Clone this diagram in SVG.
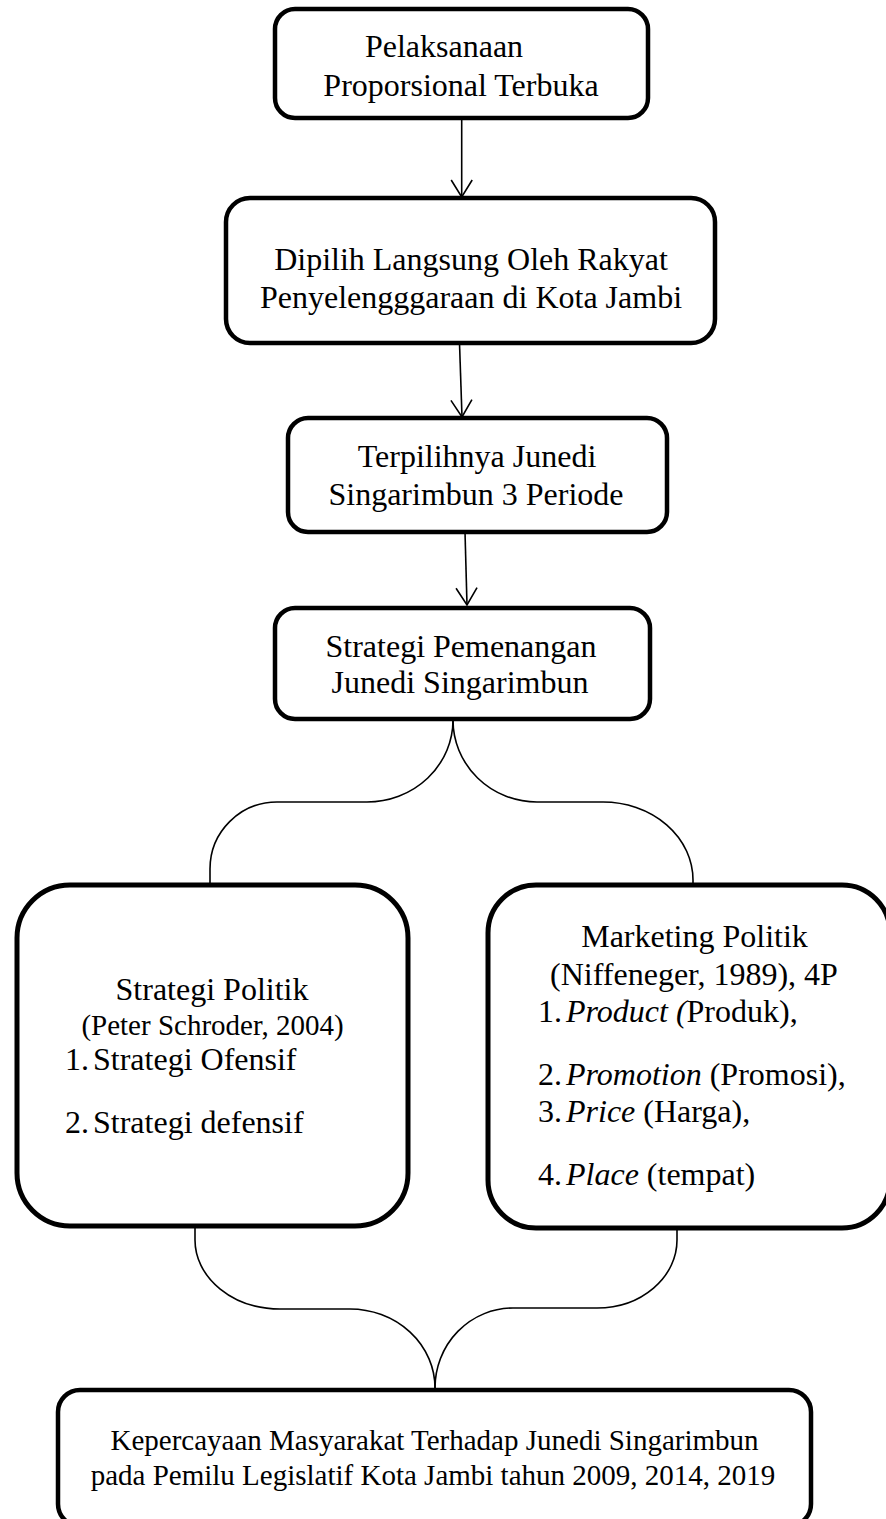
<svg xmlns="http://www.w3.org/2000/svg" width="886" height="1519" viewBox="0 0 886 1519">
<defs>
<style>
.box{fill:#fff;stroke:#000;stroke-width:4.5}
.bigbox{fill:#fff;stroke:#000;stroke-width:5}
.t{font-family:"Liberation Serif","Times New Roman",serif;font-size:32px;fill:#000}
.s{font-size:29px}
.c{text-anchor:middle}
.i{font-style:italic}
.ln{fill:none;stroke:#000;stroke-width:1.6}
</style>
<marker id="ah" markerWidth="20" markerHeight="23" refX="18" refY="11.5" orient="auto" markerUnits="userSpaceOnUse" viewBox="0 0 20 23">
<path d="M1,1 L18,11.5 L1,22" fill="none" stroke="#000" stroke-width="1.6"/>
</marker>
</defs>
<rect width="886" height="1519" fill="#fff"/>
<g id="connectors">
<path class="ln" d="M461.7,118 L461.7,197" marker-end="url(#ah)"/>
<path class="ln" d="M459.5,343 L462,417" marker-end="url(#ah)"/>
<path class="ln" d="M465,532 L467,605" marker-end="url(#ah)"/>
<path class="ln" d="M453,720 A86,82 0 0 1 367,802 L277,802 A67,67 0 0 0 210,869 L210,885"/>
<path class="ln" d="M453,720 A84,82 0 0 0 537,802 L603,802 A90,78 0 0 1 693,880 L693,885"/>
<path class="ln" d="M195,1226 L195,1240 A85,69 0 0 0 280,1309 L350,1309 A85,79 0 0 1 435,1388 L435,1390"/>
<path class="ln" d="M677,1228 L677,1240 A80,68 0 0 1 597,1308 L513,1308 A78,80 0 0 0 435,1388"/>
</g>
<g id="n1">
<rect class="box" x="275" y="9" width="373" height="109" rx="20"/>
<text class="t c" x="444" y="57">Pelaksanaan</text>
<text class="t c" x="461" y="96">Proporsional Terbuka</text>
</g>
<g id="n2">
<rect class="box" x="226" y="198" width="489" height="145" rx="24"/>
<text class="t c" x="471" y="270">Dipilih Langsung Oleh Rakyat</text>
<text class="t c" x="471" y="308">Penyelengggaraan di Kota Jambi</text>
</g>
<g id="n3">
<rect class="box" x="288" y="418" width="379" height="114" rx="20"/>
<text class="t c" x="477" y="467">Terpilihnya Junedi</text>
<text class="t c" x="476" y="505">Singarimbun 3 Periode</text>
</g>
<g id="n4">
<rect class="box" x="275" y="608" width="375" height="111" rx="20"/>
<text class="t c" x="461" y="657">Strategi Pemenangan</text>
<text class="t c" x="460" y="693">Junedi Singarimbun</text>
</g>
<g id="n5">
<rect class="bigbox" x="17" y="885" width="391" height="341" rx="53"/>
<text class="t c" x="212" y="1000">Strategi Politik</text>
<text class="t s c" x="212.5" y="1035">(Peter Schroder, 2004)</text>
<text class="t" y="1070"><tspan x="65">1.</tspan><tspan x="93">Strategi Ofensif</tspan></text>
<text class="t" y="1133"><tspan x="65">2.</tspan><tspan x="93">Strategi defensif</tspan></text>
</g>
<g id="n6">
<rect class="bigbox" x="488" y="885" width="402" height="343" rx="48"/>
<text class="t c" x="694.5" y="947">Marketing Politik</text>
<text class="t c" x="694" y="985">(Niffeneger, 1989), 4P</text>
<text class="t" y="1022"><tspan x="538">1.</tspan><tspan x="566" class="i">Product (</tspan><tspan>Produk),</tspan></text>
<text class="t" y="1085"><tspan x="538">2.</tspan><tspan x="566" class="i">Promotion</tspan><tspan> (Promosi),</tspan></text>
<text class="t" y="1122"><tspan x="538">3.</tspan><tspan x="566" class="i">Price</tspan><tspan> (Harga),</tspan></text>
<text class="t" y="1185"><tspan x="538">4.</tspan><tspan x="566" class="i">Place</tspan><tspan> (tempat)</tspan></text>
</g>
<g id="n7">
<rect class="box" x="58" y="1390" width="753" height="136" rx="22"/>
<text class="t s c" x="434.5" y="1450">Kepercayaan Masyarakat Terhadap Junedi Singarimbun</text>
<text class="t s c" x="433" y="1485">pada Pemilu Legislatif Kota Jambi tahun 2009, 2014, 2019</text>
</g>
</svg>
